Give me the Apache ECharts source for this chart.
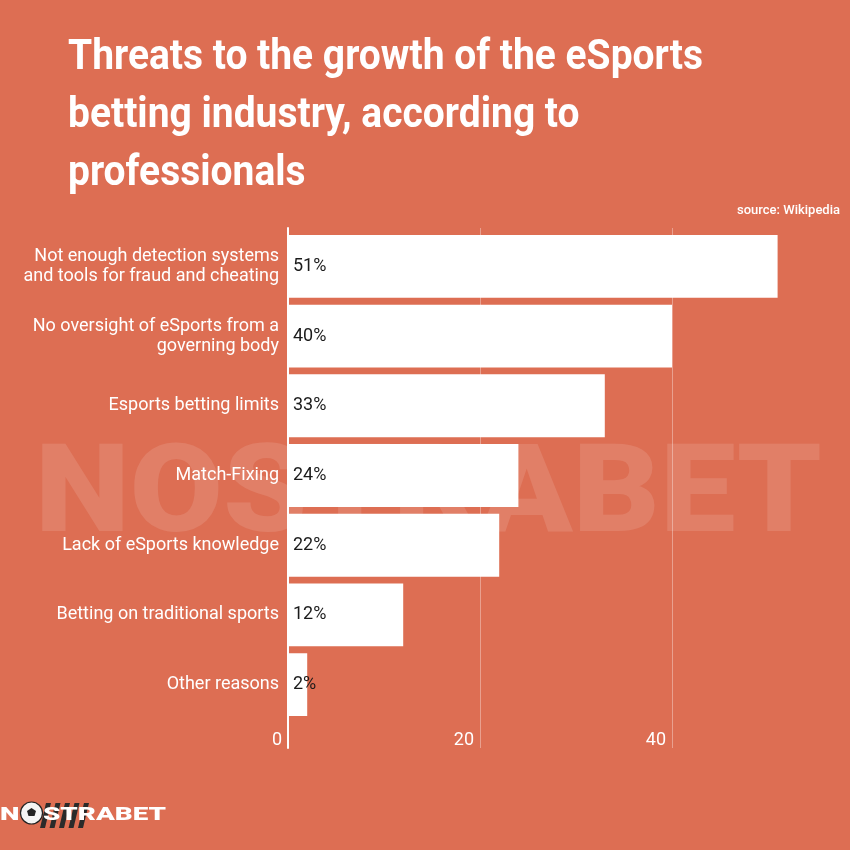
<!DOCTYPE html>
<html><head><meta charset="utf-8">
<script src="https://cdn.jsdelivr.net/npm/echarts@6/dist/echarts.min.js"></script>
<style>html,body{margin:0;padding:0;background:#DD6E53;overflow:hidden}#c{width:850px;height:850px}</style>
</head><body><div id="c"></div>
<script>
const titleLines = ['Threats to the growth of the eSports', 'betting industry, according to', 'professionals'];
const sourceText = 'source: Wikipedia';
const categories = [
  'Not enough detection systems\nand tools for fraud and cheating',
  'No oversight of eSports from a\ngoverning body',
  'Esports betting limits',
  'Match-Fixing',
  'Lack of eSports knowledge',
  'Betting on traditional sports',
  'Other reasons'
];
const values = [51, 40, 33, 24, 22, 12, 2];
const xTicks = [0, 20, 40];

const BG = '#DD6E53';
const cv = document.createElement('canvas').getContext('2d');
function measure(t, f) { cv.font = f; return cv.measureText(t).width; }
const titleFont = '700 42px Roboto';
const titleScale = 635 / measure(titleLines[0], titleFont);
const wmFont = '900 122px Roboto';
const wmScale = 787 / measure('NOSTRABET', wmFont);
const logoFont = '900 19px Roboto';
const logoScale = 123 / measure('STRABET', logoFont);

const chart = echarts.init(document.getElementById('c'), null, {renderer: 'canvas'});
const stripes = [];
for (let i = 0; i < 5; i++) {
  const x0 = 40 + i * 9.5;
  stripes.push({type: 'polygon', z: 5, shape: {points: [[x0 + 6, 803], [x0 + 11, 803], [x0 + 5, 828], [x0, 828]]}, style: {fill: '#2a2a2a'}});
}
// axis extent chosen so that 1 unit = 9.6px over the plot width 850-288
const xMax = 562 / 9.6;
chart.setOption({
  backgroundColor: BG,
  animation: false,
  textStyle: {fontFamily: 'Roboto'},
  graphic: [
    {type: 'text', z: -10, x: 35, y: 500, scaleX: wmScale,
      style: {text: 'NOSTRABET', font: wmFont, fill: 'rgba(255,255,255,0.12)', textVerticalAlign: 'middle'}},
    {type: 'text', z: 10, x: 68, y: 29, scaleX: titleScale,
      style: {text: titleLines.join('\n'), font: titleFont, fill: '#fff', lineHeight: 58, textVerticalAlign: 'top'}},
    {type: 'text', z: 10, x: 840, y: 211,
      style: {text: sourceText, font: '500 13px Roboto', fill: '#fff', textAlign: 'right', textVerticalAlign: 'middle'}},
    ...stripes,
    {type: 'text', z: 10, x: 0, y: 815, scaleX: logoScale,
      style: {text: 'N', font: logoFont, fill: '#fff', textVerticalAlign: 'middle'}},
    {type: 'circle', z: 10, shape: {cx: 31.5, cy: 813, r: 11}, style: {fill: '#f4f4f4', stroke: '#222', lineWidth: 1.2}},
    {type: 'polygon', z: 11, shape: {points: [[31.5, 808], [36, 811], [34.5, 816], [28.5, 816], [27, 811]]}, style: {fill: '#222'}},
    {type: 'text', z: 10, x: 43, y: 815, scaleX: logoScale,
      style: {text: 'STRABET', font: logoFont, fill: '#fff', textVerticalAlign: 'middle'}}
  ],
  grid: [
    {left: 288, top: 231.4, right: 0, height: 488.2, containLabel: false},
    {left: 288, top: 228, right: 0, height: 520, containLabel: false}
  ],
  xAxis: [
    {gridIndex: 0, type: 'value', min: 0, max: xMax, interval: 20, show: false},
    {gridIndex: 1, type: 'value', min: 0, max: xMax, interval: 20,
      axisLine: {show: false}, axisTick: {show: false},
      splitLine: {show: true, lineStyle: {color: 'rgba(255,255,255,0.35)', width: 1}},
      axisLabel: {color: '#fff', fontSize: 18, align: 'right', verticalAlign: 'bottom', margin: 1,
        padding: [0, 6, 0, 0], showMaxLabel: false,
        formatter: v => xTicks.includes(v) ? String(v) : ''}}
  ],
  yAxis: [
    {gridIndex: 0, type: 'category', inverse: true, data: categories,
      axisLine: {show: false}, axisTick: {show: false},
      axisLabel: {color: '#fff', fontSize: 18, lineHeight: 20, margin: 9, align: 'right'}},
    {gridIndex: 1, type: 'value', min: 0, max: 1, z: 5,
      axisLine: {show: true, lineStyle: {color: '#fff', width: 2}},
      axisTick: {show: false}, axisLabel: {show: false}, splitLine: {show: false}}
  ],
  series: [{
    type: 'bar', xAxisIndex: 0, yAxisIndex: 0, data: values,
    barCategoryGap: '10%', z: 3,
    itemStyle: {color: '#fff'},
    label: {show: true, position: 'insideLeft', distance: 5, formatter: '{c}%',
      color: '#1b1b1b', fontSize: 18, fontFamily: 'Roboto'}
  }]
});
</script></body></html>
